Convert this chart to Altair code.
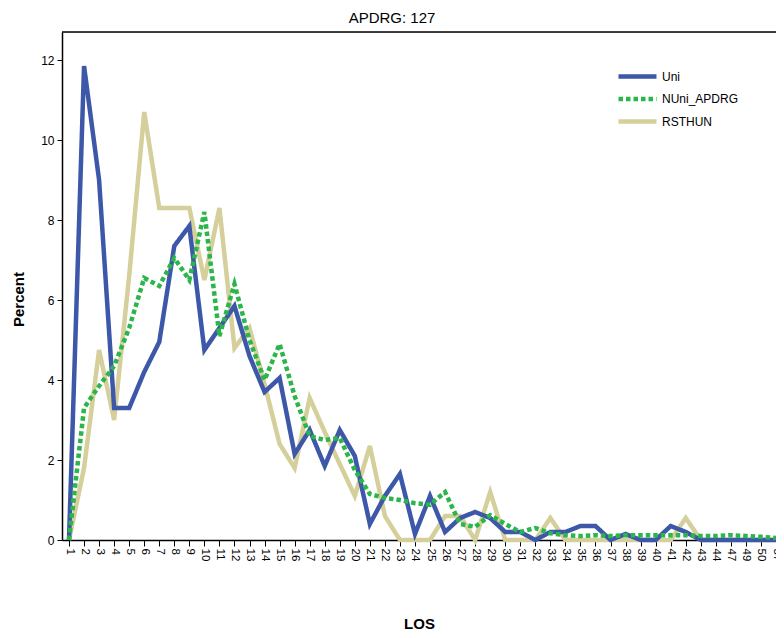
import altair as alt
import pandas as pd

# Category labels (LOS) along the x axis
los_labels = [str(i) for i in range(1, 45)] + ["47", "49", "50", "57"]

# Percent values per series, one per LOS category
uni = [0.0, 11.85, 9.0, 3.3, 3.3, 4.2, 4.95, 7.35, 7.85, 4.75, 5.3, 5.85, 4.6, 3.7, 4.05,
       2.15, 2.75, 1.85, 2.75, 2.1, 0.4, 1.1, 1.65, 0.15, 1.1, 0.2, 0.55, 0.7, 0.55, 0.2,
       0.2, 0.0, 0.2, 0.2, 0.35, 0.35, 0.0, 0.15, 0.0, 0.0, 0.35, 0.2, 0.0, 0.0,
       0.0, 0.0, 0.0, 0.0]
nuni = [0.0, 3.3, 3.85, 4.35, 5.3, 6.55, 6.35, 7.05, 6.5, 8.2, 5.1, 6.4, 5.0, 4.0, 4.9,
        3.6, 2.6, 2.5, 2.55, 1.75, 1.15, 1.05, 1.0, 0.92, 0.88, 1.2, 0.4, 0.33, 0.62, 0.4,
        0.2, 0.3, 0.17, 0.12, 0.1, 0.12, 0.1, 0.12, 0.12, 0.12, 0.12, 0.12, 0.1, 0.1,
        0.12, 0.1, 0.08, 0.05]
rst = [0.0, 1.8, 4.75, 3.0, 6.6, 10.7, 8.3, 8.3, 8.3, 6.5, 8.3, 4.8, 5.3, 3.9, 2.4,
       1.8, 3.55, 2.7, 1.9, 1.1, 2.35, 0.6, 0.0, 0.0, 0.0, 0.6, 0.6, 0.0, 1.2, 0.0,
       0.0, 0.0, 0.55, 0.0, 0.0, 0.0, 0.0, 0.0, 0.0, 0.0, 0.0, 0.55, 0.0, 0.0,
       0.0, 0.0, 0.0, 0.0]

series_names = ["Uni", "NUni_APDRG", "RSTHUN"]
series_colors = ["#3D57A9", "#2BB54A", "#D5CF9B"]
series_dash = [[1, 0], [4.5, 3], [1, 0]]

rows = []
# drawing order: RSTHUN first (bottom), then Uni, then NUni_APDRG on top
for name, vals in [("RSTHUN", rst), ("Uni", uni), ("NUni_APDRG", nuni)]:
    for i, v in enumerate(vals):
        rows.append({"idx": i, "LOS": los_labels[i], "Percent": v, "series": name})
df = pd.DataFrame(rows)

label_array = "[" + ",".join("'%s'" % s for s in los_labels) + "]"

W, H = 714, 508
FONT = "Liberation Sans"
step = (W - 7) / 47.0
xmin = -7 / step
xmax = (W - 7) / step

legend_kw = dict(title=None, orient="none", legendX=568, legendY=37,
                 symbolType="M-3.8,0H3.8", symbolSize=100,
                 symbolStrokeWidth=4.5, labelOffset=17,
                 labelFont=FONT, labelFontSize=12, labelColor="black",
                 rowPadding=3.5, padding=0)

lines = alt.Chart(df).mark_line(strokeWidth=4.5, strokeJoin="miter", strokeCap="butt").encode(
    x=alt.X("idx:Q",
            scale=alt.Scale(domain=[xmin, xmax], nice=False, zero=False),
            axis=alt.Axis(values=list(range(len(los_labels))),
                          labelExpr=label_array + "[datum.value]",
                          labelAngle=90, labelAlign="left", labelBaseline="middle",
                          labelFlush=False, labelOverlap=False, labelPadding=2,
                          labelFontSize=11.5, labelFont=FONT, labelColor="black",
                          tickSize=6, tickColor="black", domainColor="black", domainWidth=1.5,
                          grid=False, title="LOS", titleFont=FONT, titleFontSize=15,
                          titleFontWeight="bold", titleColor="black", titleY=83,
                          titleBaseline="middle")),
    y=alt.Y("Percent:Q",
            scale=alt.Scale(domain=[0, 12.7], nice=False),
            axis=alt.Axis(values=[0, 2, 4, 6, 8, 10, 12], tickSize=5, tickColor="black",
                          domainColor="black", domainWidth=1.5, grid=False,
                          labelFontSize=12, labelFont=FONT, labelColor="black", labelPadding=3,
                          title="Percent", titleFont=FONT, titleFontSize=15,
                          titleFontWeight="bold", titleColor="black",
                          titleX=-44, titleY=267, titleAlign="center", titleBaseline="middle")),
    color=alt.Color("series:N",
                    scale=alt.Scale(domain=series_names, range=series_colors),
                    legend=alt.Legend(**legend_kw)),
    strokeDash=alt.StrokeDash("series:N",
                              scale=alt.Scale(domain=series_names, range=series_dash),
                              legend=alt.Legend(**legend_kw)),
)

frame = alt.Chart(pd.DataFrame({"a": [0]})).mark_rule(color="black", strokeWidth=1.5).encode(
    x=alt.value(0), x2=alt.value(W), y=alt.value(0)
)

chart = alt.layer(lines, frame).properties(
    width=W, height=H,
    title=alt.TitleParams("APDRG: 127", font=FONT, fontSize=15, fontWeight="normal",
                          color="black", dx=-27, offset=5),
    autosize=alt.AutoSizeParams(type="none"),
    padding={"left": 54, "top": 24, "right": 0, "bottom": 90},
).configure_view(stroke=None).configure(background="white")

chart.save("out.html", embed_options={"renderer": "svg", "actions": False})
